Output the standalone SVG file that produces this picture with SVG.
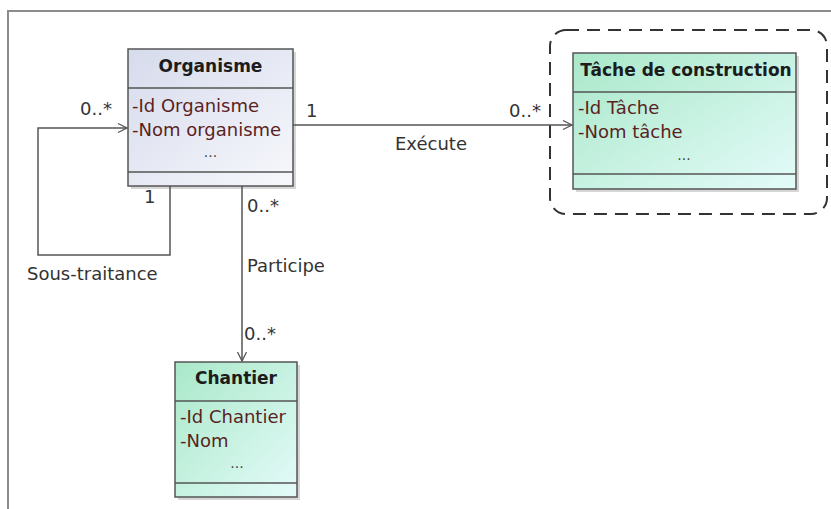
<svg xmlns="http://www.w3.org/2000/svg" width="831" height="509" viewBox="0 0 831 509">
<defs>
<linearGradient id="gBlue" x1="0" y1="0" x2="1" y2="1">
<stop offset="0" stop-color="#d6dbec"/>
<stop offset="1" stop-color="#f7f8fc"/>
</linearGradient>
<linearGradient id="gGreen" x1="0" y1="0" x2="1" y2="1">
<stop offset="0" stop-color="#a9e8c9"/>
<stop offset="1" stop-color="#e4fbf9"/>
</linearGradient>
<marker id="open" markerWidth="12" markerHeight="12" refX="10" refY="6" orient="auto" markerUnits="userSpaceOnUse">
<path d="M1,1.5 L10,6 L1,10.5" fill="none" stroke="#555" stroke-width="1.3"/>
</marker>
</defs>
<style>
.box{stroke:#555;stroke-width:1.5}
.shadow{fill:#bbb;opacity:0.6}
.sep{stroke:#555;stroke-width:1.5}
.title{font-family:"DejaVu Sans",sans-serif;font-weight:bold;font-size:17px;fill:#1c1c1c;text-anchor:middle}
.attr{font-family:"DejaVu Sans",sans-serif;font-size:18px;fill:#5a1f1f}
.dots{font-family:"DejaVu Sans",sans-serif;font-size:14px;fill:#444;text-anchor:middle}
.lbl{font-family:"DejaVu Sans",sans-serif;font-size:18px;fill:#333}
.edge{fill:none;stroke:#555;stroke-width:1.5}
</style>
<rect x="0" y="0" width="831" height="509" fill="#fff"/>
<path d="M8,509 L8,11 L831,11" fill="none" stroke="#8c8c8c" stroke-width="2"/>

<g id="package">
<rect x="550" y="30" width="277" height="184" rx="16" ry="16" fill="none" stroke="#333" stroke-width="2" stroke-dasharray="13,8"/>
</g>

<g id="organisme">
<rect class="shadow" x="131" y="52" width="165" height="137"/>
<rect class="box" x="128" y="49" width="165" height="137" fill="url(#gBlue)"/>
<line class="sep" x1="128" y1="88" x2="293" y2="88"/>
<line class="sep" x1="128" y1="172" x2="293" y2="172"/>
<text class="title" x="210.5" y="72">Organisme</text>
<text class="attr" x="132" y="112">-Id Organisme</text>
<text class="attr" x="132" y="136">-Nom organisme</text>
<text class="dots" x="210.5" y="157">...</text>
</g>

<g id="tache">
<rect class="shadow" x="576" y="56" width="223" height="136"/>
<rect class="box" x="573" y="53" width="223" height="136" fill="url(#gGreen)"/>
<line class="sep" x1="573" y1="92" x2="796" y2="92"/>
<line class="sep" x1="573" y1="174" x2="796" y2="174"/>
<text class="title" x="686" y="76">Tâche de construction</text>
<text class="attr" x="578" y="114">-Id Tâche</text>
<text class="attr" x="578" y="138">-Nom tâche</text>
<text class="dots" x="684" y="160">...</text>
</g>

<g id="chantier">
<rect class="shadow" x="178" y="365" width="122" height="135"/>
<rect class="box" x="175" y="362" width="122" height="135" fill="url(#gGreen)"/>
<line class="sep" x1="175" y1="401" x2="297" y2="401"/>
<line class="sep" x1="175" y1="483" x2="297" y2="483"/>
<text class="title" x="236" y="384">Chantier</text>
<text class="attr" x="180" y="423">-Id Chantier</text>
<text class="attr" x="180" y="447">-Nom</text>
<text class="dots" x="237" y="468">...</text>
</g>

<g id="connectors">
<path class="edge" d="M170,186 L170,255 L38,255 L38,128 L127,128" marker-end="url(#open)"/>
<path class="edge" d="M293,125 L572,125" marker-end="url(#open)"/>
<path class="edge" d="M242,186 L242,361" marker-end="url(#open)"/>
<text class="lbl" x="80" y="115">0..*</text>
<text class="lbl" x="144" y="203">1</text>
<text class="lbl" x="27" y="280">Sous-traitance</text>
<text class="lbl" x="306" y="117">1</text>
<text class="lbl" x="509" y="117">0..*</text>
<text class="lbl" x="395" y="150">Exécute</text>
<text class="lbl" x="247" y="212">0..*</text>
<text class="lbl" x="247" y="272">Participe</text>
<text class="lbl" x="244" y="340">0..*</text>
</g>
</svg>
